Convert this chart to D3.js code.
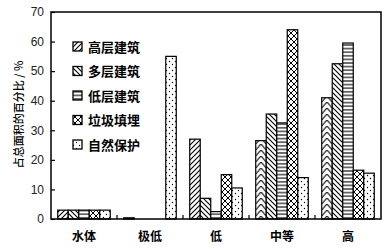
<!DOCTYPE html>
<html><head><meta charset="utf-8">
<script src="https://cdn.jsdelivr.net/npm/d3@7"></script>
<style>body{margin:0;background:#fff}svg{display:block}</style>
</head><body>
<script>
const categories = ["水体", "极低", "低", "中等", "高"];
const seriesNames = ["高层建筑", "多层建筑", "低层建筑", "垃圾填埋", "自然保护"];
const highRise = [3, 0.4, 27, 26.5, 41];
const midRise = [3, 0, 7, 35.5, 52.5];
const lowRise = [3, 0, 2.5, 32.5, 59.5];
const landfill = [3, 0, 15, 64, 16.5];
const nature = [3, 55, 10.5, 14, 15.5];
const yTicks = [0, 10, 20, 30, 40, 50, 60, 70];
const seriesValues = [highRise, midRise, lowRise, landfill, nature];

const W = 392, H = 249;
const L = 51, R = 381, T = 12, B = 219;
const svg = d3.select("body").append("svg").attr("width", W).attr("height", H);
const defs = svg.append("defs");

const x0 = d3.scaleBand().domain(categories).range([L, R]).padding(0);
const x1 = d3.scaleBand().domain(seriesNames).range([0, x0.bandwidth()]).paddingInner(0).paddingOuter(0.64);
const y = d3.scaleLinear().domain([0, 70]).range([B, T]);

function pat(id, w, h, draw) {
  const p = defs.append("pattern").attr("id", id).attr("patternUnits", "userSpaceOnUse")
    .attr("width", w).attr("height", h);
  p.append("rect").attr("width", w).attr("height", h).attr("fill", "#fff");
  draw(p);
  return p;
}
pat("p1", 5, 5, p => p.append("path").attr("d", "M-1,6 L6,-1 M-1,1 L1,-1 M4,6 L6,4").attr("stroke", "#000").attr("stroke-width", 1.1));
pat("p2", 5, 5, p => p.append("path").attr("d", "M-1,-1 L6,6 M-1,4 L1,6 M4,-1 L6,1").attr("stroke", "#000").attr("stroke-width", 1.1));
pat("p3", 6, 3.6, p => p.append("path").attr("d", "M0,1.8 L6,1.8").attr("stroke", "#000").attr("stroke-width", 1.1));
pat("p4", 6, 6, p => p.append("path").attr("d", "M0,0 L6,6 M6,0 L0,6").attr("stroke", "#000").attr("stroke-width", 1));
pat("p5", 6, 6, p => { p.append("circle").attr("cx", 1.5).attr("cy", 1.5).attr("r", 0.7).attr("fill", "#000");
  p.append("circle").attr("cx", 4.5).attr("cy", 4.5).attr("r", 0.7).attr("fill", "#000"); });

const bw = x1.bandwidth();
categories.forEach((c, i) => {
  const bx = x0(c) + x1(seriesNames[0]);
  const p = defs.append("pattern").attr("id", "chev" + i).attr("patternUnits", "userSpaceOnUse")
    .attr("x", bx).attr("y", 0).attr("width", bw).attr("height", 6);
  p.append("rect").attr("width", bw).attr("height", 6).attr("fill", "#fff");
  p.append("path").attr("d", `M0,6 L${bw/2},0 L${bw},6`).attr("fill", "none")
    .attr("stroke", "#000").attr("stroke-width", 1.1);
});

const fills = ["p1", "p2", "p3", "p4", "p5"];
function fillFor(s, i) {
  if (s === 0 && (i === 3 || i === 4)) return "url(#chev" + i + ")";
  return "url(#" + fills[s] + ")";
}

const g = svg.append("g");
seriesValues.forEach((vals, s) => {
  g.selectAll(null).data(vals.map((v, i) => ({v, i})).filter(d => d.v > 0)).enter().append("rect")
    .attr("x", d => x0(categories[d.i]) + x1(seriesNames[s]))
    .attr("y", d => y(d.v))
    .attr("width", bw)
    .attr("height", d => B - y(d.v))
    .attr("fill", d => fillFor(s, d.i))
    .attr("stroke", "#000").attr("stroke-width", 1.2);
});

svg.append("rect").attr("x", L).attr("y", T).attr("width", R - L).attr("height", B - T)
  .attr("fill", "none").attr("stroke", "#000").attr("stroke-width", 1.5);

const yAxis = d3.axisLeft(y).tickValues(yTicks).tickSize(-4).tickPadding(7).tickFormat(d3.format("d"));
const ya = svg.append("g").attr("transform", `translate(${L},0)`).call(yAxis);
ya.select(".domain").remove();
ya.selectAll("line").attr("stroke", "#000").attr("stroke-width", 1.2);
ya.selectAll("text").attr("font-family", "Liberation Sans, Arial, sans-serif").attr("font-size", 12).attr("fill", "#222");

const xa = svg.append("g").attr("transform", `translate(0,${B})`)
  .call(d3.axisBottom(x0).tickSize(0).tickPadding(13));
xa.select(".domain").remove();
xa.selectAll("text").attr("font-family", "Noto Sans CJK SC").attr("font-weight", "bold").attr("font-size", 12).attr("fill", "#000");
svg.selectAll(null).data(categories.slice(1)).enter().append("line")
  .attr("x1", d => x0(d)).attr("x2", d => x0(d)).attr("y1", B).attr("y2", B - 4)
  .attr("stroke", "#000").attr("stroke-width", 1.2);

svg.append("text").attr("transform", `translate(23,${(T + B) / 2 - 1}) rotate(-90)`)
  .attr("text-anchor", "middle").attr("font-family", "Noto Sans CJK SC").attr("font-weight", 500)
  .attr("font-size", 11).attr("fill", "#000").text("占总面积的百分比 / %");

const leg = svg.append("g");
const legY = d3.scalePoint().domain(seriesNames).range([47, 145]);
seriesNames.forEach((n, s) => {
  const yy = legY(n);
  leg.append("rect").attr("x", 73).attr("y", yy - 5).attr("width", 9).attr("height", 9)
    .attr("fill", "url(#" + fills[s] + ")").attr("stroke", "#000").attr("stroke-width", 1.3);
  leg.append("text").attr("x", 88).attr("y", yy + 4.5).attr("font-family", "Noto Sans CJK SC")
    .attr("font-weight", "bold").attr("font-size", 13).attr("fill", "#000").text(n);
});
</script>
</body></html>
